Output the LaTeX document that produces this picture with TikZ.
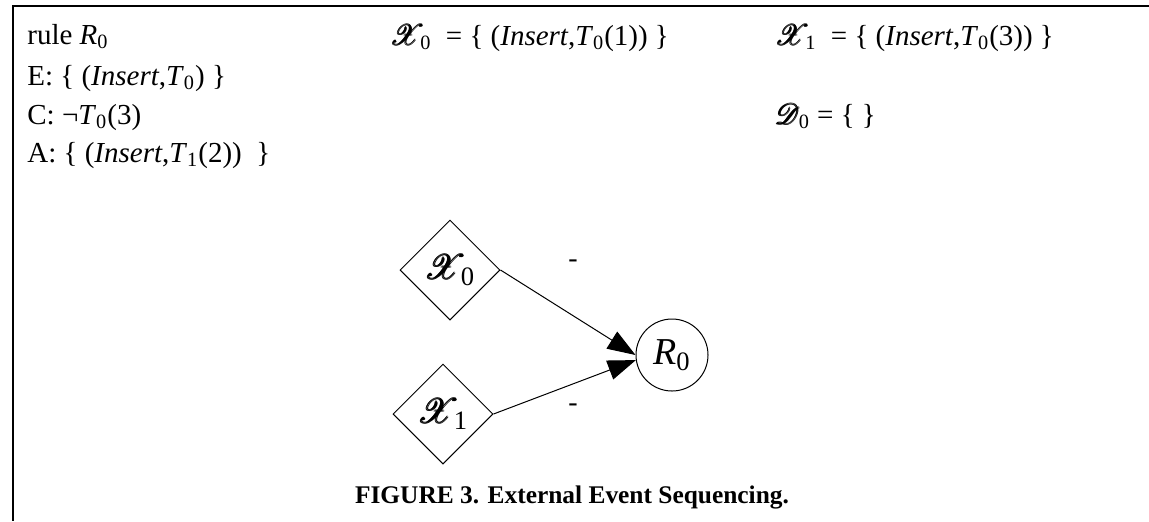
\documentclass[tikz,border=0pt]{standalone}
\usepackage{amsmath}
\usepackage{fontspec}
\setmainfont{Liberation Serif}
\usepackage{mathrsfs}
\usetikzlibrary{shapes.geometric,arrows.meta,positioning}
\newcommand{\evX}[1]{$\pmb{\mathscr{X}}\mkern-3mu_{\text{#1}}$}
\newcommand{\evD}[1]{$\pmb{\mathscr{D}}\mkern-1mu_{\text{#1}}$}
\tikzset{
	ruletxt/.style={anchor=base west, inner sep=0pt, font=\fontsize{14.5}{17}\selectfont},
	evbox/.style={diamond, draw, line width=0.5pt, aspect=1, minimum width=50pt,
		minimum height=50pt, inner sep=0pt, font=\fontsize{19}{21}\selectfont},
	rulenode/.style={circle, draw, line width=0.5pt, minimum size=36pt, inner sep=0pt,
		font=\fontsize{19}{21}\selectfont},
	evarr/.style={-{Triangle[length=14pt,width=10pt]}, line width=0.5pt},
	signlbl/.style={inner sep=0pt, font=\fontsize{14}{16}\selectfont}
}

\begin{document}
\begin{tikzpicture}[x=0.5pt,y=-0.5pt]
	\useasboundingbox (0,0) rectangle (1149,521);
	\draw[line width=1.2pt] (1149,6) -- (13,6) -- (13,521);
	% rule text
	\node[ruletxt] (rl) at (27,44) {rule \textit{R}\textsubscript{0}};
	\node[ruletxt] (re) at (27,85) {E: \{ (\textit{Insert},\textit{T}\textsubscript{0}) \}};
	\node[ruletxt] (rc) at (27,124) {C: ¬\textit{T}\textsubscript{0}(3)};
	\node[ruletxt] (ra) at (27,162) {A:\ \{ (\textit{Insert},\textit{T}\textsubscript{1}(2))\ \ \}};
	\node[ruletxt] (sx0) at (390,45) {\evX{0}\ \ = \{ (\textit{Insert},\textit{T}\textsubscript{0}(1)) \}};
	\node[ruletxt] (sx1) at (775,45) {\evX{1}\ \ = \{ (\textit{Insert},\textit{T}\textsubscript{0}(3)) \}};
	\node[ruletxt] (sd0) at (775,124) {\evD{0} = \{ \}};
	% graph
	\node[evbox] (x0) at (450,270) {\evX{0}};
	\node[evbox] (x1) at (443,414) {\evX{1}};
	\node[rulenode] (r0) at (672,355) {\textit{R}\textsubscript{0}};
	\draw[evarr] (x0.east) -- (r0.west);
	\draw[evarr] (x1.east) -- (r0.188);
	\node[signlbl] (s0) at (573,264) {-};
	\node[signlbl] (s1) at (573,408) {-};
	\node[font=\fontsize{12.7}{15}\bfseries] (cap) at (572,497) {FIGURE 3. External Event Sequencing.};
\end{tikzpicture}
\end{document}
